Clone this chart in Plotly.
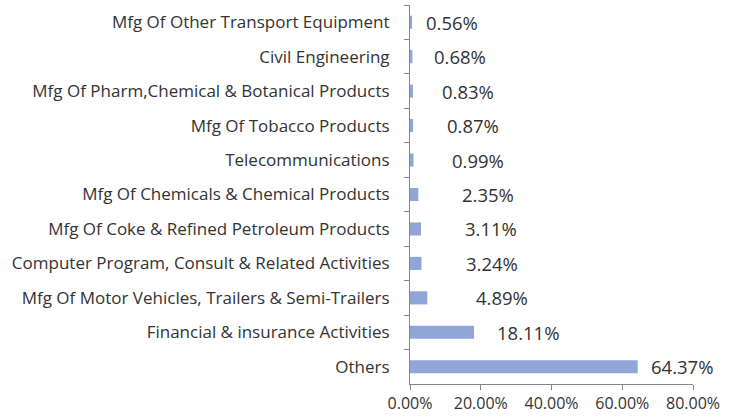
import plotly.graph_objects as go

categories = [
    "Mfg Of Other Transport Equipment",
    "Civil Engineering",
    "Mfg Of Pharm,Chemical & Botanical Products",
    "Mfg Of Tobacco Products",
    "Telecommunications",
    "Mfg Of Chemicals & Chemical Products",
    "Mfg Of Coke & Refined Petroleum Products",
    "Computer Program, Consult & Related Activities",
    "Mfg Of Motor Vehicles, Trailers & Semi-Trailers",
    "Financial & insurance Activities",
    "Others",
]
values = [0.56, 0.68, 0.83, 0.87, 0.99, 2.35, 3.11, 3.24, 4.89, 18.11, 64.37]
tick_vals = [0, 20, 40, 60, 80]
tick_labels = ["0.00%", "20.00%", "40.00%", "60.00%", "80.00%"]

# styling: pixel gap between bar end and label (as in the original layout)
label_shift_px = [15, 23, 30, 35, 39, 45, 45, 46, 50, 24, 14]

FONT = "Open Sans, Noto Sans, sans-serif"
TXT = "#333333"
AX = "#868686"

fig = go.Figure(go.Bar(
    x=values, y=categories, orientation="h",
    marker=dict(color="#8FA6D6", line=dict(width=0)),
    hoverinfo="skip",
))

for c, v, s in zip(categories, values, label_shift_px):
    fig.add_annotation(x=v, y=c, text=f"{v:.2f}%", showarrow=False,
                       xanchor="left", yanchor="middle", xshift=s - 3,
                       font=dict(family=FONT, size=18.5, color=TXT))

fig.update_layout(
    template="none",
    width=733, height=419,
    margin=dict(l=410, r=40, t=5, b=35, autoexpand=False),
    plot_bgcolor="white", paper_bgcolor="white",
    bargap=0.62, showlegend=False,
    font=dict(family=FONT, size=16, color=TXT),
)
fig.update_xaxes(range=[0, 80], tickvals=tick_vals, ticktext=tick_labels,
                 automargin=False,
                 showgrid=False, zeroline=False, showline=True, linecolor=AX,
                 linewidth=1, ticks="outside", ticklen=5, tickcolor=AX,
                 tickfont=dict(family=FONT, size=16, color=TXT))
fig.update_yaxes(categoryorder="array", categoryarray=categories,
                 automargin=False,
                 autorange="reversed", showgrid=False, showline=True,
                 linecolor=AX, linewidth=1, ticks="outside", ticklen=5,
                 tickcolor=AX, tickson="boundaries", ticklabelstandoff=16,
                 tickfont=dict(family=FONT, size=17, color=TXT))

fig.write_html("out.html", config={"displayModeBar": False},
               post_script="document.body.style.margin='0';document.body.style.overflow='hidden';")
